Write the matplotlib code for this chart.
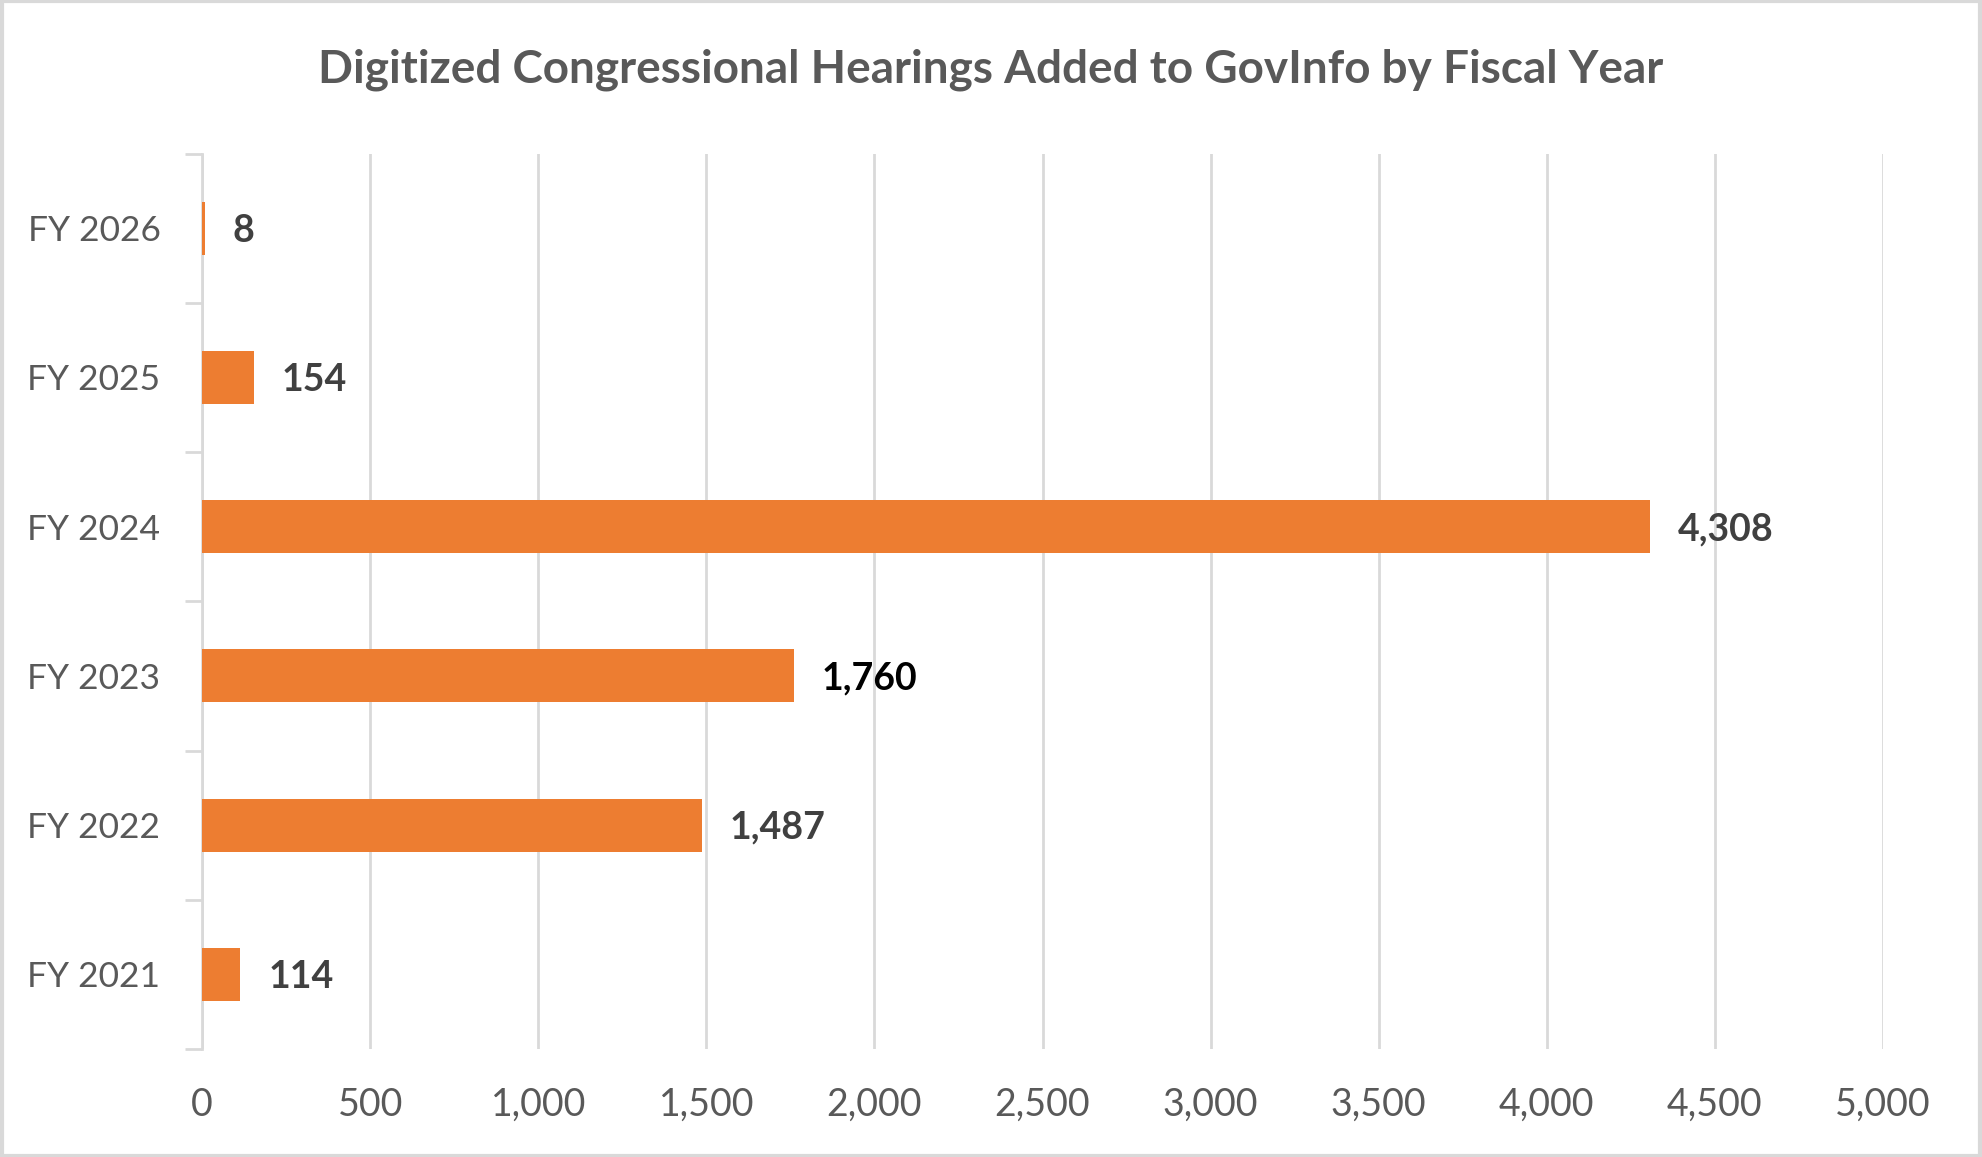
import matplotlib.pyplot as plt
from matplotlib.patches import Rectangle

# -- data --
years = ["FY 2021", "FY 2022", "FY 2023", "FY 2024", "FY 2025", "FY 2026"]
hearings = [114, 1487, 1760, 4308, 154, 8]
label_colors = ["#404040", "#404040", "#000000", "#404040", "#404040", "#404040"]

xticks = [0, 500, 1000, 1500, 2000, 2500, 3000, 3500, 4000, 4500, 5000]

plt.rcParams["font.family"] = ["Lato", "DejaVu Sans"]

fig = plt.figure(figsize=(19.82, 11.57), dpi=100)
ax = fig.add_axes([0.102, 0.0933, 0.848, 0.774])

pos = list(range(len(years)))
ax.barh(pos, hearings, height=0.355, color="#ED7D31", zorder=3)

for p, v, c in zip(pos, hearings, label_colors):
    ax.annotate(f"{v:,}", (v, p), xytext=(20, -2), textcoords="offset points",
                ha="left", va="center", fontsize=27, fontweight="bold", color=c)

ax.set_xlim(0, 5000)
ax.set_ylim(-0.5, len(years) - 0.5)
ax.set_xticks(xticks)
ax.set_xticklabels([f"{t:,}" for t in xticks])
ax.set_yticks(pos)
ax.set_yticklabels(years)
ax.set_yticks([p - 0.5 for p in range(len(years) + 1)], minor=True)

ax.grid(axis="x", color="#D9D9D9", linewidth=2, zorder=0)
for s in ["top", "right", "bottom"]:
    ax.spines[s].set_visible(False)
ax.spines["left"].set_color("#D9D9D9")
ax.spines["left"].set_linewidth(2)

ax.tick_params(axis="x", length=0, pad=27, labelsize=27, labelcolor="#595959")
ax.tick_params(axis="y", which="major", length=0, pad=30, labelsize=25.5, labelcolor="#595959")
ax.tick_params(axis="y", which="minor", length=12, width=2, color="#D9D9D9")

fig.text(0.5, 0.940, "Digitized Congressional Hearings Added to GovInfo by Fiscal Year",
         ha="center", va="center", fontsize=33, fontweight="bold", color="#595959")

fig.patches.append(Rectangle((0.001, 0.001), 0.998, 0.998, transform=fig.transFigure,
                             fill=False, edgecolor="#D9D9D9", linewidth=3))

fig.savefig("out.png", dpi=100)
